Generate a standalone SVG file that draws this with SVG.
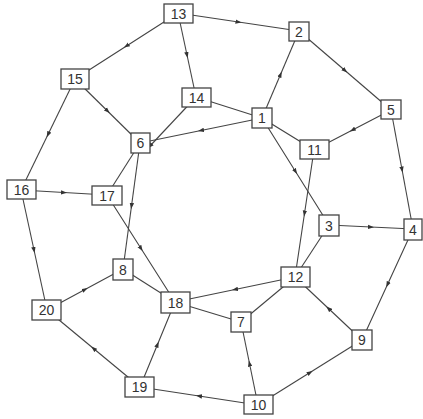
<svg xmlns="http://www.w3.org/2000/svg" width="423" height="419" viewBox="0 0 423 419">
<defs>
<marker id="a" markerUnits="userSpaceOnUse" markerWidth="6" markerHeight="5" refX="3" refY="2.5" orient="auto">
<path d="M0,0.3 L6,2.5 L0,4.7 z" fill="#333"/>
</marker>
<style>
.e{fill:none;stroke:#444;stroke-width:1.1}
.m{marker-mid:url(#a)}
.n rect{fill:#fff;stroke:#444;stroke-width:1.3}
.n text{font-family:"Liberation Sans",Arial,sans-serif;font-size:14px;fill:#333;text-anchor:middle;dominant-baseline:central}
</style>
</defs>
<rect width="423" height="419" fill="#fff"/>
<g id="edges">
<path class="e m" d="M178,13 L238.5,22 L299,31"/>
<path class="e m" d="M178,13 L126.5,46 L75,79"/>
<path class="e m" d="M178,13 L187,55 L196,97"/>
<path class="e m" d="M262,118 L280.5,74.5 L299,31"/>
<path class="e m" d="M299,31 L345,70.5 L391,110"/>
<path class="e m" d="M75,79 L107.5,111 L140,143"/>
<path class="e m" d="M75,79 L48,134.5 L21,190"/>
<path class="e" d="M196,97 L150,146" marker-end="url(#a)"/>
<path class="e m" d="M262,118 L201,130.5 L140,143"/>
<path class="e" d="M196,97 L262,118"/>
<path class="e" d="M262,118 L314,150"/>
<path class="e m" d="M262,118 L295.5,171.5 L329,225"/>
<path class="e m" d="M391,110 L352.5,130 L314,150"/>
<path class="e m" d="M391,110 L402,169.5 L413,229"/>
<path class="e m" d="M314,150 L304.5,213.5 L295,277"/>
<path class="e m" d="M329,225 L371,227 L413,229"/>
<path class="e" d="M329,225 L295,277"/>
<path class="e m" d="M413,229 L387.5,284.5 L362,340"/>
<path class="e m" d="M362,340 L328.5,308.5 L295,277"/>
<path class="e m" d="M295,277 L235,289.5 L175,302"/>
<path class="e" d="M295,277 L241,322"/>
<path class="e m" d="M258,405 L310,372.5 L362,340"/>
<path class="e m" d="M258,405 L249.5,363.5 L241,322"/>
<path class="e m" d="M258,405 L199,396 L140,387"/>
<path class="e m" d="M140,387 L157.5,344.5 L175,302"/>
<path class="e m" d="M140,387 L93.5,348.5 L47,310"/>
<path class="e m" d="M47,310 L85,289.5 L123,269"/>
<path class="e m" d="M21,190 L34,250 L47,310"/>
<path class="e m" d="M21,190 L64,192.5 L107,195"/>
<path class="e" d="M107,195 L140,143"/>
<path class="e m" d="M140,143 L131.5,206 L123,269"/>
<path class="e m" d="M107,195 L141,248.5 L175,302"/>
<path class="e" d="M123,269 L175,302"/>
<path class="e" d="M175,302 L241,322"/>
</g>
<g id="n13" class="n"><rect x="164" y="4" width="29" height="19"/><text x="178.5" y="13.5">13</text></g>
<g id="n2" class="n"><rect x="289" y="22" width="20" height="19"/><text x="299" y="31.5">2</text></g>
<g id="n15" class="n"><rect x="61" y="69" width="28" height="20"/><text x="75" y="79">15</text></g>
<g id="n14" class="n"><rect x="182" y="88" width="29" height="19"/><text x="196.5" y="97.5">14</text></g>
<g id="n1" class="n"><rect x="252" y="108" width="20" height="20"/><text x="262" y="118">1</text></g>
<g id="n5" class="n"><rect x="381" y="100" width="20" height="19"/><text x="391" y="109.5">5</text></g>
<g id="n11" class="n"><rect x="300" y="140" width="29" height="19"/><text x="314.5" y="149.5">11</text></g>
<g id="n6" class="n"><rect x="131" y="133" width="19" height="20"/><text x="140.5" y="143">6</text></g>
<g id="n16" class="n"><rect x="7" y="180" width="29" height="19"/><text x="21.5" y="189.5">16</text></g>
<g id="n17" class="n"><rect x="92" y="186" width="30" height="19"/><text x="107" y="195.5">17</text></g>
<g id="n3" class="n"><rect x="319" y="215" width="20" height="21"/><text x="329" y="225.5">3</text></g>
<g id="n4" class="n"><rect x="404" y="219" width="18" height="21"/><text x="413" y="229.5">4</text></g>
<g id="n12" class="n"><rect x="281" y="267" width="29" height="20"/><text x="295.5" y="277">12</text></g>
<g id="n8" class="n"><rect x="113" y="259" width="20" height="21"/><text x="123" y="269.5">8</text></g>
<g id="n18" class="n"><rect x="161" y="292" width="29" height="21"/><text x="175.5" y="302.5">18</text></g>
<g id="n20" class="n"><rect x="32" y="300" width="29" height="20"/><text x="46.5" y="310">20</text></g>
<g id="n7" class="n"><rect x="231" y="312" width="20" height="20"/><text x="241" y="322">7</text></g>
<g id="n9" class="n"><rect x="352" y="330" width="20" height="20"/><text x="362" y="340">9</text></g>
<g id="n19" class="n"><rect x="125" y="377" width="29" height="20"/><text x="139.5" y="387">19</text></g>
<g id="n10" class="n"><rect x="244" y="395" width="29" height="19"/><text x="258.5" y="404.5">10</text></g>
</svg>
